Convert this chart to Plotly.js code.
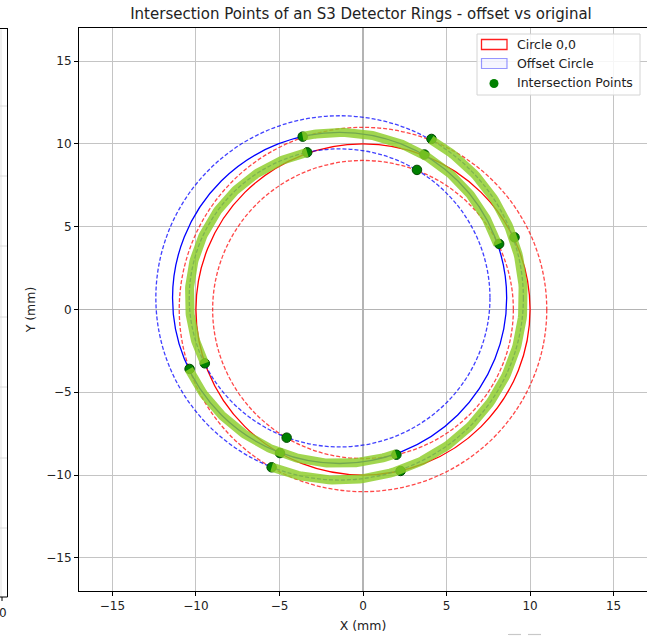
<!DOCTYPE html>
<html>
<head>
<meta charset="utf-8">
<script src="https://cdn.plot.ly/plotly-3.0.1.min.js"></script>
<style>html,body{margin:0;padding:0;background:#fff;overflow:hidden}#chart{width:647px;height:637px}</style>
</head>
<body>
<div id="chart"></div>
<script>
// ---- data ----
const originalCenter = [0, 0];          // "Circle 0,0"
const offsetCenter = [-1.4, 0.7];       // "Offset Circle"
const ringRadii = [9, 10, 11];          // inner edge, centre, outer edge (mm)

// intersection points (mm)
const pointX = [-3.61, 4.10, -3.34, 3.68, 3.23, 8.15, 9.07, -10.38, -9.47, -4.57, -4.97, -5.47, 2.00, 2.25];
const pointY = [10.44, 10.30, 9.49, 9.36, 8.43, 3.96, 4.36, -3.59, -3.25, -7.74, -8.67, -9.53, -8.77, -9.75];

// highlighted arcs of the offset rings: ring radius, start point index, end point index (counter-clockwise)
const arcRadius = [10, 9, 10, 11];
const arcFrom = [5, 2, 7, 11];
const arcTo = [0, 8, 12, 1];

const xTicks = [-15, -10, -5, 0, 5, 10, 15];
const yTicks = [-15, -10, -5, 0, 5, 10, 15];

// ---- drawing ----
const FONT = 'DejaVu Sans, Liberation Sans, sans-serif';
const PL = 79, PR = 647, PT = 28, PB = 591;
const px = v => (v - PL) / (PR - PL);
const py = v => (PB - v) / (PB - PT);

function ringShape(c, r, color, dash, width) {
  return {type: 'circle', xref: 'x', yref: 'y', layer: 'between',
    x0: c[0] - r, x1: c[0] + r, y0: c[1] - r, y1: c[1] + r,
    line: {color: color, width: width, dash: dash}, fillcolor: 'rgba(0,0,0,0)'};
}
const shapes = [];
ringRadii.forEach(r => {
  const solid = r === ringRadii[1];
  shapes.push(ringShape(originalCenter, r, solid ? 'rgb(255,0,0)' : 'rgba(255,0,0,0.72)', solid ? 'solid' : '4px,2px', 1.3));
});
ringRadii.forEach(r => {
  const solid = r === ringRadii[1];
  shapes.push(ringShape(offsetCenter, r, solid ? 'rgb(0,0,255)' : 'rgba(0,0,255,0.75)', solid ? 'solid' : '4px,2px', 1.3));
});

// partially visible neighbouring panel at the far left
function pline(x0, y0, x1, y1, color, w) {
  return {type: 'line', xref: 'paper', yref: 'paper', x0: px(x0), x1: px(x1), y0: py(y0), y1: py(y1),
    line: {color: color, width: w}, layer: 'above'};
}
shapes.push(pline(1, 28, 1, 597, '#e2e2e2', 1));
[106, 176, 246, 317, 387, 458, 528].forEach(v => shapes.push(pline(0, v, 7, v, '#dcdcdc', 1)));
shapes.push(pline(7.5, 28, 7.5, 597, '#000', 1));
shapes.push(pline(0, 28.5, 7.5, 28.5, '#000', 1));
shapes.push(pline(0, 597, 7.5, 597, '#000', 1));
shapes.push(pline(2, 597, 2, 601, '#000', 1));
// faint marks at bottom right
shapes.push(pline(508, 634.5, 521, 634.5, '#c8c8c8', 1.2));
shapes.push(pline(528, 634.5, 541, 634.5, '#c8c8c8', 1.2));

// legend box
shapes.push({type: 'rect', xref: 'paper', yref: 'paper', x0: px(477), x1: px(640), y0: py(95), y1: py(34),
  fillcolor: 'rgba(255,255,255,0.85)', line: {color: '#d4d4d4', width: 1}, layer: 'above'});
shapes.push({type: 'rect', xref: 'paper', yref: 'paper', x0: px(481.5), x1: px(507), y0: py(49.5), y1: py(39.5),
  fillcolor: 'rgba(255,255,255,0)', line: {color: 'rgb(255,30,30)', width: 1.3}, layer: 'above'});
shapes.push({type: 'rect', xref: 'paper', yref: 'paper', x0: px(481.5), x1: px(507), y0: py(68.5), y1: py(58.5),
  fillcolor: 'rgba(0,0,255,0.04)', line: {color: 'rgba(0,0,255,0.4)', width: 1.2}, layer: 'above'});
shapes.push({type: 'circle', xref: 'paper', yref: 'paper', x0: px(489.5), x1: px(498.5), y0: py(88), y1: py(79),
  fillcolor: 'green', line: {color: 'green', width: 0}, layer: 'above'});

const LF = 12.5;
const annotations = [
  {text: 'Circle 0,0', xref: 'paper', yref: 'paper', x: px(515), y: py(44.5), xanchor: 'left', yanchor: 'middle', showarrow: false, font: {family: FONT, size: LF, color: '#222'}},
  {text: 'Offset Circle', xref: 'paper', yref: 'paper', x: px(515), y: py(63.5), xanchor: 'left', yanchor: 'middle', showarrow: false, font: {family: FONT, size: LF, color: '#222'}},
  {text: 'Intersection Points', xref: 'paper', yref: 'paper', x: px(515), y: py(82.5), xanchor: 'left', yanchor: 'middle', showarrow: false, font: {family: FONT, size: LF, color: '#222'}},
  {text: '0', xref: 'paper', yref: 'paper', x: px(2.5), y: py(613), xanchor: 'center', yanchor: 'middle', showarrow: false, font: {family: FONT, size: 12, color: '#222'}}
];

const traces = [];
traces.push({type: 'scatter', mode: 'markers', x: pointX, y: pointY, name: 'Intersection Points', showlegend: false,
  marker: {size: 9.5, color: 'green', line: {color: '#004a00', width: 1}}, hoverinfo: 'x+y'});

for (let k = 0; k < arcRadius.length; k++) {
  const r = arcRadius[k];
  const cx = offsetCenter[0], cy = offsetCenter[1];
  let a0 = Math.atan2(pointY[arcFrom[k]] - cy, pointX[arcFrom[k]] - cx);
  let a1 = Math.atan2(pointY[arcTo[k]] - cy, pointX[arcTo[k]] - cx);
  if (a1 < a0) a1 += 2 * Math.PI;
  const xs = [], ys = [];
  const n = 160;
  for (let i = 0; i <= n; i++) {
    const a = a0 + (a1 - a0) * i / n;
    xs.push(cx + r * Math.cos(a));
    ys.push(cy + r * Math.sin(a));
  }
  traces.push({type: 'scatter', mode: 'lines', x: xs, y: ys, showlegend: false, hoverinfo: 'skip',
    line: {color: 'rgba(140,205,40,0.82)', width: 9}});
}

const axisCommon = {
  range: [-17, 17], autorange: false, tickmode: 'array',
  ticks: 'outside', ticklen: 4, tickwidth: 1, tickcolor: '#000',
  showgrid: true, gridcolor: '#c4c4c4', gridwidth: 1,
  zeroline: true, zerolinecolor: '#b4b4b4', zerolinewidth: 1.5,
  showline: true, linecolor: '#000', linewidth: 1,
  tickfont: {family: FONT, size: 12, color: '#222'}
};

const layout = {
  width: 647, height: 637,
  margin: {l: PL, r: 647 - PR, t: PT, b: 637 - PB, pad: 0},
  paper_bgcolor: '#fff', plot_bgcolor: '#fff',
  showlegend: false,
  title: {text: 'Intersection Points of an S3 Detector Rings - offset vs original',
    xref: 'container', x: 361 / 647, xanchor: 'center', y: 1 - 14 / 637, yanchor: 'middle', yref: 'container',
    font: {family: FONT, size: 15, color: '#222'}},
  xaxis: Object.assign({}, axisCommon, {tickvals: xTicks, mirror: true,
    title: {text: 'X (mm)', standoff: 8, font: {family: FONT, size: 12.5, color: '#222'}}}),
  yaxis: Object.assign({}, axisCommon, {tickvals: yTicks, mirror: false,
    title: {text: 'Y (mm)', standoff: 7, font: {family: FONT, size: 12.5, color: '#222'}}}),
  shapes: shapes,
  annotations: annotations
};

Plotly.newPlot('chart', traces, layout, {displayModeBar: false, staticPlot: true});
</script>
</body>
</html>
